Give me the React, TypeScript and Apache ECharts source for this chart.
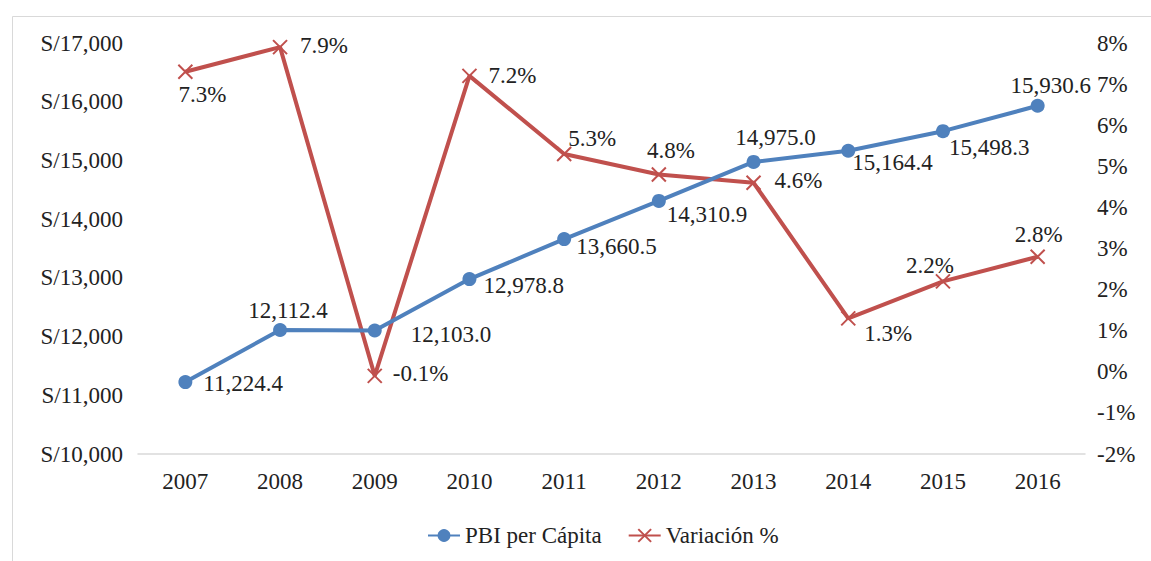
import React, { useEffect, useRef } from "react";
import * as echarts from "echarts";

const YEARS = ["2007", "2008", "2009", "2010", "2011", "2012", "2013", "2014", "2015", "2016"];
const PBI_PER_CAPITA = [11224.4, 12112.4, 12103.0, 12978.8, 13660.5, 14310.9, 14975.0, 15164.4, 15498.3, 15930.6];
const VARIACION = [7.3, 7.9, -0.1, 7.2, 5.3, 4.8, 4.6, 1.3, 2.2, 2.8];

// label anchor offsets from the point centre: [dx, dy, align]
const PBI_LABEL_OFFSETS: [number, number, string][] = [
  [19, 2, "left"],
  [9, -18, "center"],
  [37, 5, "left"],
  [15, 7, "left"],
  [13, 8, "left"],
  [9, 15, "left"],
  [23, -23, "center"],
  [5, 13, "left"],
  [7, 17, "left"],
  [14, -19, "center"],
];
const VAR_LABEL_OFFSETS: [number, number, string][] = [
  [19, 25, "center"],
  [22, 0, "left"],
  [20, 0, "left"],
  [21, 2, "left"],
  [6, -13, "left"],
  [14, -22, "center"],
  [23, 0, "left"],
  [18, 17, "left"],
  [-11, -14, "center"],
  [3, -20, "center"],
];

const BLUE = "#4f81bd";
const RED = "#c0504d";
const TEXT = "#222222";
const FONT = "Liberation Serif";
const FS = 23;
const SYM = 12;

const fmtNum = (v: number) =>
  v.toLocaleString("en-US", { minimumFractionDigits: 1, maximumFractionDigits: 1 });

export default function App() {
  const ref = useRef<HTMLDivElement>(null);
  useEffect(() => {
    if (!ref.current) return;
    const chart = echarts.init(ref.current, null, { renderer: "svg" });
    const r = SYM / 2;
    const mkData = (vals: number[], offs: [number, number, string][], fmt: (v: number) => string) =>
      vals.map((v, i) => ({
        value: v,
        label: {
          show: true,
          position: [offs[i][0] + r, offs[i][1] + r],
          align: offs[i][2],
          verticalAlign: "middle",
          formatter: fmt(v),
          color: TEXT,
          fontFamily: FONT,
          fontSize: FS,
        },
      }));
    chart.setOption({
      animation: false,
      backgroundColor: "#ffffff",
      textStyle: { fontFamily: FONT },
      graphic: [
        {
          type: "rect",
          shape: { x: 12.5, y: 16.5, width: 1200, height: 600 },
          style: { fill: "none", stroke: "#d9d9d9", lineWidth: 1 },
          silent: true,
        },
      ],
      grid: { left: 138, right: 66, top: 43, bottom: 107 },
      legend: {
        left: 422,
        top: 519,
        itemWidth: 32,
        itemHeight: 16,
        itemGap: 26,
        textStyle: { color: TEXT, fontFamily: FONT, fontSize: FS },
        data: ["PBI per Cápita", "Variación %"],
      },
      xAxis: {
        type: "category",
        data: YEARS,
        boundaryGap: true,
        axisLine: { show: true, onZero: false, lineStyle: { color: "#d9d9d9", width: 1.5 } },
        axisTick: { show: false },
        axisLabel: { color: TEXT, fontFamily: FONT, fontSize: FS, margin: 16 },
      },
      yAxis: [
        {
          type: "value",
          min: 10000,
          max: 17000,
          interval: 1000,
          splitLine: { show: false },
          axisLine: { show: false },
          axisTick: { show: false },
          axisLabel: {
            color: TEXT,
            fontFamily: FONT,
            fontSize: FS,
            margin: 15,
            formatter: (v: number) => "S/" + v.toLocaleString("en-US"),
          },
        },
        {
          type: "value",
          min: -2,
          max: 8,
          interval: 1,
          position: "right",
          splitLine: { show: false },
          axisLine: { show: false },
          axisTick: { show: false },
          axisLabel: {
            color: TEXT,
            fontFamily: FONT,
            fontSize: FS,
            margin: 12,
            formatter: (v: number) => v + "%",
          },
        },
      ],
      series: [
        {
          name: "PBI per Cápita",
          type: "line",
          yAxisIndex: 0,
          data: mkData(PBI_PER_CAPITA, PBI_LABEL_OFFSETS, fmtNum),
          symbol: "circle",
          symbolSize: SYM + 2,
          lineStyle: { color: BLUE, width: 4 },
          itemStyle: { color: BLUE },
          z: 3,
        },
        {
          name: "Variación %",
          type: "line",
          yAxisIndex: 1,
          data: mkData(VARIACION, VAR_LABEL_OFFSETS, (v) => v.toFixed(1) + "%"),
          symbol: "path://M0,0L10,10M0,10L10,0",
          symbolSize: SYM + 2,
          lineStyle: { color: RED, width: 4 },
          itemStyle: { color: RED, borderColor: RED, borderWidth: 2 },
          z: 2,
        },
      ],
    });
    return () => chart.dispose();
  }, []);
  return (
    <div
      ref={ref}
      style={{ position: "absolute", left: 0, top: 0, width: 1151, height: 561, background: "#fff" }}
    />
  );
}
